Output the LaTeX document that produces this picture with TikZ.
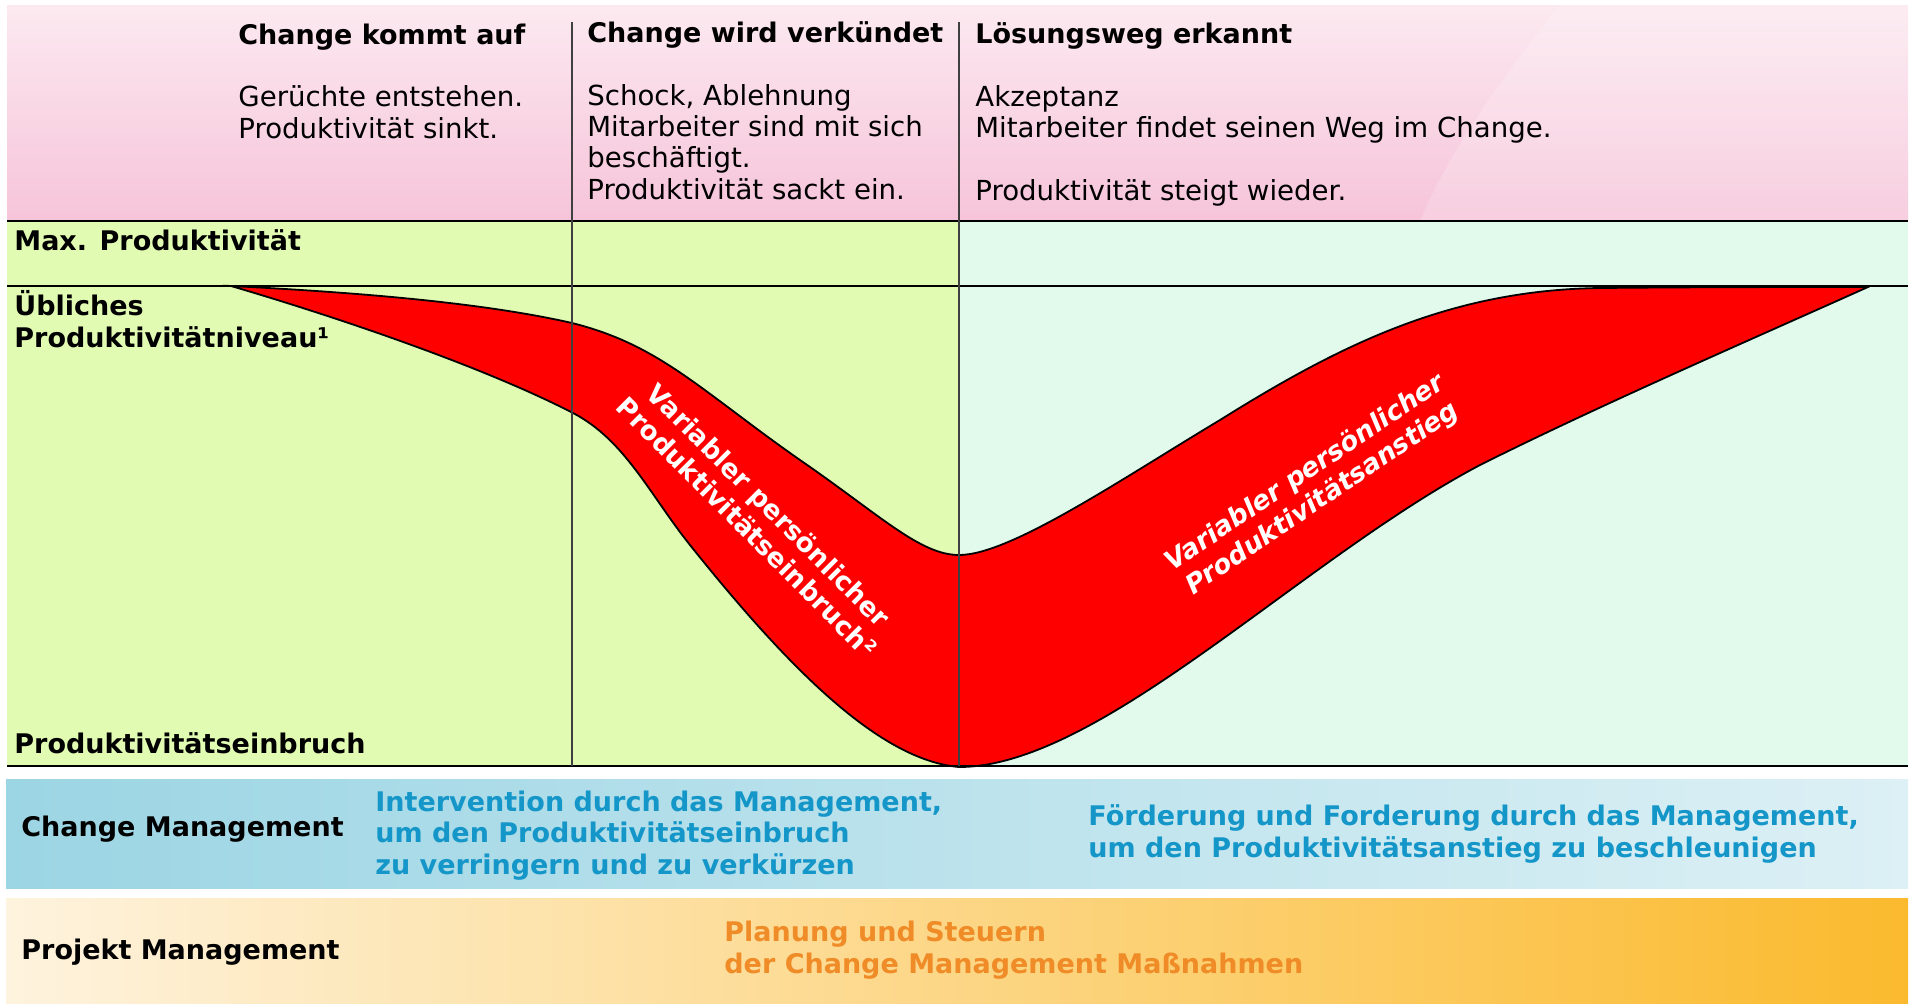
\documentclass[tikz,border=0pt]{standalone}
\usepackage{fontspec}
\setmainfont{DejaVu Sans}
\definecolor{pinkTop}{RGB}{252,233,240}
\definecolor{pinkBot}{RGB}{246,196,217}
\definecolor{phaseGreen}{RGB}{226,251,178}
\definecolor{phaseMint}{RGB}{225,250,236}
\definecolor{cmLeft}{RGB}{156,213,228}
\definecolor{cmRight}{RGB}{220,240,245}
\definecolor{pmLeft}{RGB}{254,243,222}
\definecolor{pmRight}{RGB}{251,186,46}
\definecolor{cmBlue}{RGB}{20,150,200}
\definecolor{pmOrange}{RGB}{240,140,40}
\tikzset{
  head/.style   = {anchor=base west, inner sep=0pt, font=\fontsize{13.5}{15.6}\selectfont\bfseries},
  body/.style   = {anchor=base west, inner sep=0pt, align=left, font=\fontsize{13.8}{15.6}\selectfont},
  rowlabel/.style = {head, align=left},
  cmtext/.style = {head, align=left, text=cmBlue},
  pmtext/.style = {head, align=left, text=pmOrange},
  wave/.style   = {inner sep=0pt, align=center, text=white, font=\fontsize{13.2}{15.5}\selectfont\bfseries},
  divider/.style = {line width=0.6pt, black!75},
  level/.style  = {line width=0.9pt, black}
}

\begin{document}
\begin{tikzpicture}[x=0.5pt,y=-0.5pt]
\useasboundingbox (0,0) rectangle (1913,1003);
\fill[white] (0,0) rectangle (1913,1003);

% phase band on top and the two chart areas
\shade[top color=pinkTop, bottom color=pinkBot] (7,5) rectangle (1908,221);
\fill[white, opacity=0.18] (1560,5) .. controls (1500,80) and (1450,150) .. (1420,221) -- (1908,221) -- (1908,5) -- cycle;
\fill[phaseGreen] (7,221) rectangle (959,766);
\fill[phaseMint] (959,221) rectangle (1908,766);

% management bands
\shade[left color=cmLeft, right color=cmRight] (6,779) rectangle (1908,888);
\shade[left color=pmLeft, right color=pmRight] (6,898) rectangle (1908,1003);

% the red productivity band
\filldraw[fill=red, draw=black, line width=0.9pt]
  (231,286) .. controls (350,292) and (480,302) .. (572,323)
  .. controls (660,345) and (700,390) .. (800,460)
  .. controls (880,515) and (920,555) .. (959,555)
  .. controls (1010,555) and (1120,480) .. (1220,420)
  .. controls (1340,345) and (1450,290) .. (1600,288)
  .. controls (1700,287) and (1800,287) .. (1868,287)
  .. controls (1750,340) and (1600,405) .. (1480,465)
  .. controls (1300,560) and (1100,767) .. (959,767)
  .. controls (880,760) and (790,670) .. (690,545)
  .. controls (650,495) and (625,440) .. (573,413)
  .. controls (480,365) and (330,315) .. (231,286) -- cycle;

% grid lines
\coordinate (maxL) at (7,221);   \coordinate (maxR) at (1908,221);
\coordinate (normL) at (7,286);  \coordinate (normR) at (1908,286);
\coordinate (lowL) at (7,766);   \coordinate (lowR) at (1908,766);
\draw[level] (maxL) -- (maxR);
\draw[level] (normL) -- (normR);
\draw[level, line width=1.3pt] (lowL) -- (lowR);
\coordinate (d1top) at (572,22);  \coordinate (d1bot) at (572,766);
\coordinate (d2top) at (959,22);  \coordinate (d2bot) at (959,766);
\draw[divider] (d1top) -- (d1bot);
\draw[divider] (d2top) -- (d2bot);

% phases (multi-line nodes sit on their last baseline)
\node[head] (p1) at (238,44) {Change kommt auf};
\node[body] (p1t) at (238,138) {Gerüchte entstehen.\\Produktivität sinkt.};
\node[head] (p2) at (587,42) {Change wird verkündet};
\node[body] (p2t) at (587,199) {Schock, Ablehnung\\Mitarbeiter sind mit sich\\beschäftigt.\\Produktivität sackt ein.};
\node[head] (p3) at (975,43) {Lösungsweg erkannt};
\node[body] (p3t) at (975,200) {Akzeptanz\\Mitarbeiter findet seinen Weg im Change.\\[15.6pt]Produktivität steigt wieder.};

% levels
\node[rowlabel] (lmax) at (14,250) {Max. Produktivität};
\node[rowlabel] (lnorm) at (14,347) {Übliches\\Produktivitätniveau¹};
\node[rowlabel] (llow) at (14,753) {Produktivitätseinbruch};

% band labels
\node[wave, rotate=-45] (drop) at (758,516) {Variabler persönlicher\\Produktivitätseinbruch²};
\node[wave, rotate=34, font=\fontsize{13.2}{15.5}\selectfont\bfseries\itshape] (rise) at (1314,486) {Variabler persönlicher\\Produktivitätsanstieg};

% management rows
\node[rowlabel] (cm) at (21,836) {Change Management};
\node[cmtext] (cm1) at (375,874) {Intervention durch das Management,\\um den Produktivitätseinbruch\\zu verringern und zu verkürzen};
\node[cmtext] (cm2) at (1088,857) {Förderung und Forderung durch das Management,\\um den Produktivitätsanstieg zu beschleunigen};
\node[rowlabel] (pm) at (21,959) {Projekt Management};
\node[pmtext] (pm1) at (724,973) {Planung und Steuern\\der Change Management Maßnahmen};
\end{tikzpicture}
\end{document}
